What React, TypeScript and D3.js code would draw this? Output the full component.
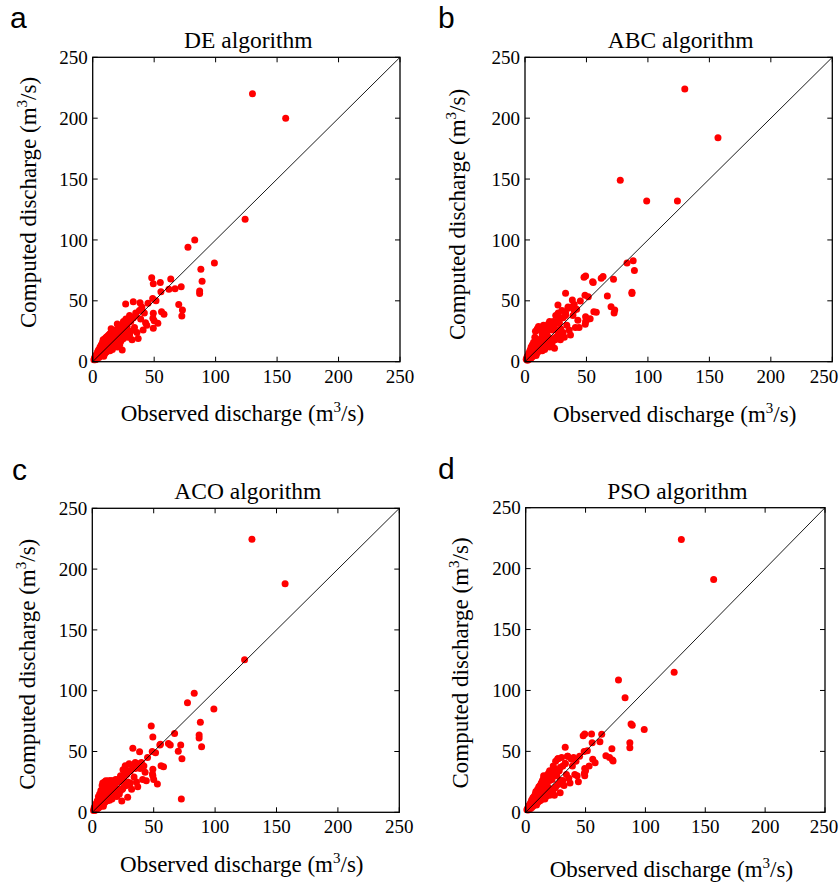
import React from 'react';
import * as d3 from 'd3';

// observed discharge, shared by all four calibrations (m3/s)
const observed = [
  130, 157, 124, 83, 77.5, 99, 88, 89, 87, 87,
  48, 49.3, 55, 55.5, 62, 63.5, 67, 72, 70, 73,
  72.5, 56, 58, 49.3, 49, 50, 53, 49.3, 48.8, 51.5,
  26.8, 33, 38.5, 45, 24, 28.8, 44, 35, 40,
  1, 1.5, 2, 2, 2.5, 3, 3, 3.5, 4, 4,
  4.5, 5, 5, 5.5, 6, 6, 6.5, 7, 7, 7.5,
  8, 8, 8.5, 9, 9, 9.5, 10, 10, 10.5, 11,
  11, 11.5, 12, 12, 12.5, 13, 13, 13.5, 14, 14,
  14.5, 15, 15, 15.5, 16, 16, 16.5, 17, 17, 18,
  18, 18.5, 19, 19, 20, 20, 21, 21, 22, 22,
  23, 23, 24, 25, 25, 26, 27, 27, 28, 29,
  30, 30, 31, 32, 33, 34, 35, 36, 37, 38,
  39, 40, 41, 42, 43, 20, 12, 9, 6, 15,
  3, 5, 6.5, 8, 9.5, 11, 12.5, 14, 15.5, 17,
  18.5, 20, 21.5, 23, 24.5, 26, 27.5, 29, 31, 33,
];

const computedDE = [
  220, 200, 117, 100, 94, 81, 76, 66, 58, 56,
  69, 64, 65, 57.5, 59.5, 68, 60, 61.6, 47, 42.5,
  37.5, 41, 39, 39.7, 35.6, 33.7, 31.5, 27.4, 52, 50,
  47.4, 49.3, 48.5, 48, 9.6, 20, 30, 38, 43,
  1.5, 3, 1.5, 4, 4.5, 2, 6, 5.5, 3, 8,
  9, 3.5, 10, 4.5, 12, 4.5, 8, 14, 5, 10,
  16, 6, 18, 11, 6.5, 14, 19, 7, 12, 20,
  8, 15, 21, 9, 13, 22, 10, 17, 23, 9,
  19, 12, 24, 16, 10, 20, 14, 25, 12, 22,
  13, 20, 26, 15, 24, 12, 28, 18, 23, 14,
  30, 17, 27, 33, 19, 24, 35, 21, 29, 25,
  38, 22, 33, 18, 36, 28, 40, 24, 19, 42,
  35, 45, 26, 40, 32, 31, 16, 4.5, 8.5, 27,
  4, 6, 5.5, 10, 8, 14, 10, 17, 12, 20,
  15, 24, 17, 27, 19, 30, 22, 33, 25, 36,
];

const computedABC = [
  224, 184, 132, 81, 149, 132, 83, 75, 56, 57,
  69.3, 70.4, 65.7, 65, 68.5, 70, 54, 67.7, 45.2, 42.5,
  40, 41, 40.6, 37, 30.7, 34, 35.3, 33, 54.5, 53.4,
  46.6, 56.2, 50.7, 49.9, 11, 18, 28, 45, 42,
  2, 3.5, 1.2, 4.5, 5, 1.8, 7, 6, 2.5, 9,
  10, 3, 12, 5, 14, 4, 9, 16, 5.5, 11,
  20, 5.5, 25, 12, 6, 15, 27, 7.5, 13, 29,
  8.5, 17, 26, 9, 14, 28, 10.5, 19, 24, 9,
  22, 12.5, 30, 18, 10, 23, 14, 27, 12, 25,
  14, 21, 31, 16, 28, 12, 32, 19, 26, 15,
  33, 18, 30, 38, 20, 26, 40, 23, 32, 27,
  42, 24, 36, 20, 40, 30, 44, 26, 22, 45,
  38, 47, 28, 43, 34, 33, 18, 5, 9, 29,
  4.5, 7, 5, 13, 8, 18, 9.5, 22, 11, 24,
  14, 27, 16, 30, 18, 33, 21, 36, 24, 38,
];

const computedACO = [
  224.5, 188, 125.5, 98, 90, 85, 74, 54, 63.6, 61,
  71, 62, 55.3, 56, 56.6, 55.3, 64.9, 55.3, 50.3, 44,
  11, 38.3, 37.5, 35.5, 31.5, 27, 23.3, 30, 50, 49,
  38, 52.6, 49.8, 45, 9.3, 12.3, 26, 36, 38,
  1.5, 3.5, 1.5, 4.5, 5, 2, 7, 6, 3, 9,
  10, 3.5, 13, 5, 15, 4.5, 9, 18, 5.5, 11,
  22, 6, 24, 12, 7, 16, 25, 8, 13, 26,
  9, 17, 25, 9.5, 14, 26, 11, 19, 25, 10,
  21, 13, 26, 17, 11, 24, 15, 26, 13, 25,
  14, 21, 27, 16, 26, 13, 27, 19, 25, 15,
  30, 18, 28, 35, 20, 26, 38, 22, 31, 25,
  40, 23, 34, 19, 37, 29, 41, 25, 21, 40,
  36, 41, 27, 38, 33, 25, 17, 5, 9, 26,
  4, 7, 5, 14, 8, 20, 10, 24, 12, 25,
  15, 26, 17, 28, 19, 31, 22, 34, 24, 37,
];

const computedPSO = [
  224, 191, 115, 94, 108.6, 68, 72.5, 71.4, 57, 53,
  62.9, 64.2, 64.2, 57, 58, 64, 46.5, 52.2, 45, 42.1,
  43, 43.5, 40.7, 36, 32, 34, 38, 30, 50, 50.5,
  44, 53.3, 43.5, 46, 14, 16, 25.1, 46, 44,
  2, 3, 1.8, 4, 4.5, 2.5, 6, 6, 3.2, 7.5,
  8.5, 4, 10, 5, 12, 5, 8.5, 13, 6, 10,
  15, 6.5, 17, 12, 7, 14, 19, 8, 13, 21,
  9, 15, 22, 9.5, 14, 24, 10.5, 17, 26, 11,
  22, 13, 28, 17, 11, 22, 16, 30, 13, 25,
  14, 21, 32, 16, 29, 14, 33, 19, 27, 16,
  38, 19, 36, 42, 21, 30, 44, 23, 34, 26,
  45, 25, 38, 22, 40, 31, 46, 28, 24, 44,
  38, 45, 31, 42, 30, 34, 19, 6, 9, 30,
  4.5, 6.5, 6, 11, 8.5, 15, 11, 19, 13, 22,
  16, 26, 18, 30, 20, 34, 23, 37, 26, 40,
];

const tickValues = [0, 50, 100, 150, 200, 250];
const domainMax = 250;

const panels = [
  { letter: 'a', title: 'DE algorithm', values: computedDE, left: 92.7, top: 57.3, width: 307.3, height: 304.4, letterX: 10, letterY: 28, xLabelDy: 59, yLabelDx: 57, yLabelDy: -7 },
  { letter: 'b', title: 'ABC algorithm', values: computedABC, left: 525, top: 57.3, width: 307.3, height: 304.4, letterX: 438, letterY: 28, xLabelDy: 60, yLabelDx: 60, yLabelDy: 5 },
  { letter: 'c', title: 'ACO algorithm', values: computedACO, left: 92.3, top: 508.3, width: 307, height: 304, letterX: 12, letterY: 480, xLabelDy: 59.4, yLabelDx: 57.3, yLabelDy: 4 },
  { letter: 'd', title: 'PSO algorithm', values: computedPSO, left: 525.7, top: 507.7, width: 299.3, height: 304.6, letterX: 438, letterY: 479, xLabelDy: 64.4, yLabelDx: 57.4, yLabelDy: 3 },
];

const serif = '"Liberation Serif", "Times New Roman", serif';
const sans = '"Liberation Sans", Arial, sans-serif';
const pageWidth = 840;

function Panel({ p }: { p: typeof panels[number] }) {
  const x = d3.scaleLinear().domain([0, domainMax]).range([p.left, p.left + p.width]);
  const y = d3.scaleLinear().domain([0, domainMax]).range([p.top + p.height, p.top]);
  const bottom = p.top + p.height;
  const right = p.left + p.width;
  const tickLen = 5;
  const cx = (p.left + right) / 2;
  const cy = (p.top + bottom) / 2;
  const pts = observed.map((o, i) => [o, p.values[i]]).filter(d => d[1] != null);
  const diag = d3.line<number>().x(v => x(v)).y(v => y(v));

  return (
    <g>
      <text x={p.letterX} y={p.letterY} fontFamily={sans} fontSize={30}>{p.letter}</text>
      <text x={cx + 2} y={p.top - 9} textAnchor="middle" fontFamily={serif} fontSize={23.5}>{p.title}</text>

      {pts.map((d, i) => (
        <circle key={i} cx={x(d[0])} cy={y(d[1])} r={3.5} fill="#ff0000" />
      ))}
      <path d={diag([0, domainMax]) || ''} stroke="#000" strokeWidth={0.9} fill="none" />

      {tickValues.map(t => (
        <g key={t}>
          <line x1={x(t)} x2={x(t)} y1={bottom} y2={bottom - tickLen} stroke="#000" />
          <line x1={x(t)} x2={x(t)} y1={p.top} y2={p.top + tickLen} stroke="#000" />
          <line x1={p.left} x2={p.left + tickLen} y1={y(t)} y2={y(t)} stroke="#000" />
          <line x1={right} x2={right - tickLen} y1={y(t)} y2={y(t)} stroke="#000" />
          <text x={Math.min(x(t), pageWidth - 16)} y={bottom + 21} textAnchor="middle" fontFamily={serif} fontSize={19}>{t}</text>
          <text x={p.left - 5} y={y(t)} dy="0.35em" textAnchor="end" fontFamily={serif} fontSize={19}>{t}</text>
        </g>
      ))}
      <rect x={p.left} y={p.top} width={p.width} height={p.height} fill="none" stroke="#000" strokeWidth={1.3} />

      <text x={cx - 4} y={bottom + p.xLabelDy} textAnchor="middle" fontFamily={serif} fontSize={23}>
        Observed discharge (m<tspan dy={-9} fontSize={15}>3</tspan><tspan dy={9}>/s)</tspan>
      </text>
      <text transform={`translate(${p.left - p.yLabelDx},${cy + p.yLabelDy}) rotate(-90)`} textAnchor="middle" fontFamily={serif} fontSize={23}>
        Computed discharge (m<tspan dy={-9} fontSize={15}>3</tspan><tspan dy={9}>/s)</tspan>
      </text>
    </g>
  );
}

export default function App() {
  return (
    <div style={{ position: 'absolute', left: 0, top: 0 }}>
      <svg width={840} height={885} viewBox="0 0 840 885" style={{ display: 'block', background: '#fff' }}>
        {panels.map(p => <Panel key={p.letter} p={p} />)}
      </svg>
    </div>
  );
}
